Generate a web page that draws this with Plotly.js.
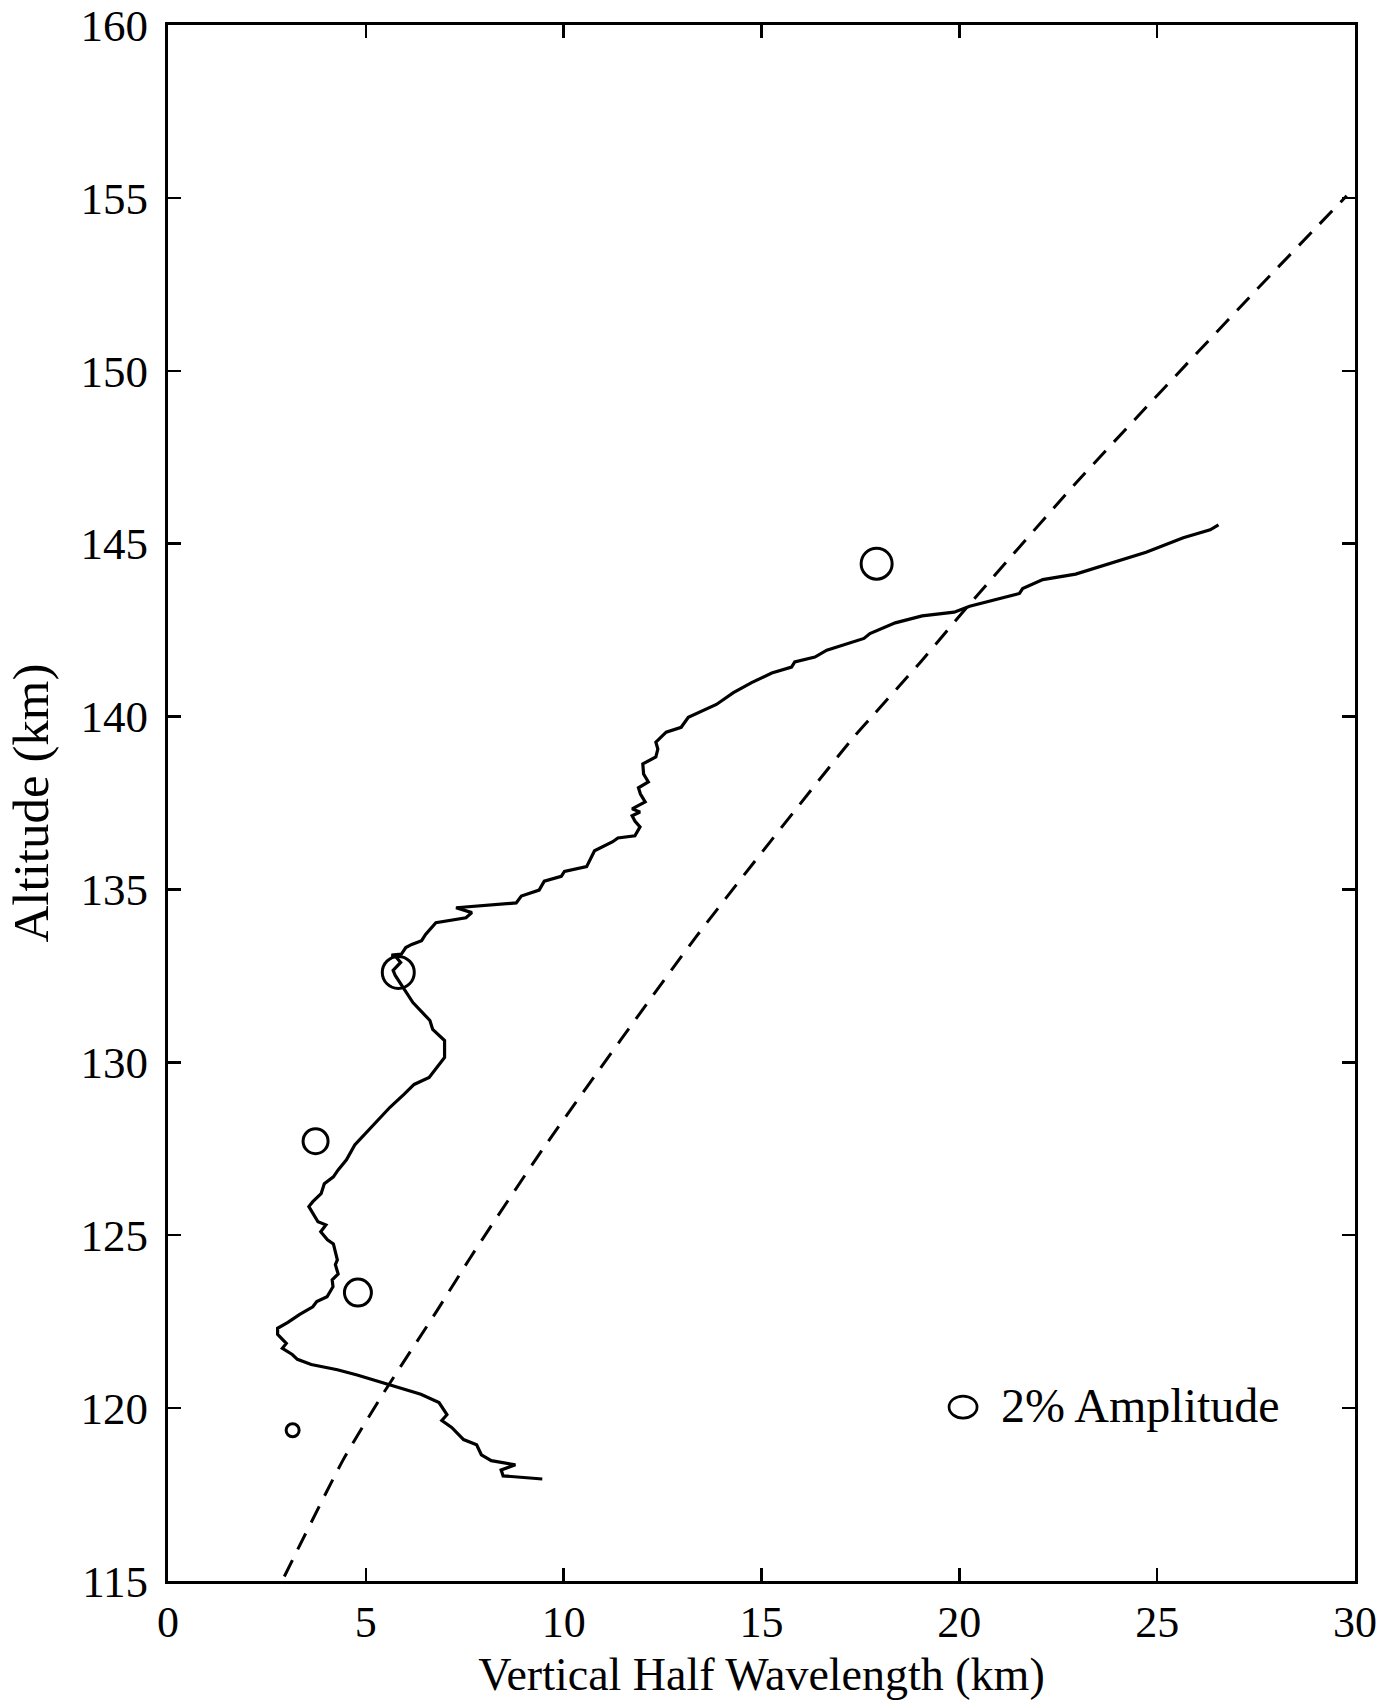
<!DOCTYPE html>
<html>
<head>
<meta charset="utf-8">
<script src="https://cdn.plot.ly/plotly-3.0.1.min.js"></script>
<style>
  html, body { margin: 0; padding: 0; background: #ffffff; }
  #chart { width: 1396px; height: 1700px; }
</style>
</head>
<body>
<div id="chart"></div>
<script>
// Measured vertical half wavelength profile (km) vs altitude (km)
const profileHalfWavelength = [
  9.46, 8.47, 8.42, 8.78, 8.17, 7.92, 7.80, 7.47, 7.17, 6.92, 7.05, 6.85, 6.39, 5.64, 5.14,
  4.78, 4.28, 3.62, 3.27, 3.14, 2.89, 2.99, 2.77, 2.77, 3.03, 3.33, 3.66, 3.76, 4.02, 4.17,
  4.15, 4.30, 4.23, 4.28, 4.18, 4.03, 3.86, 3.99, 3.79, 3.69, 3.56, 3.66, 3.87, 3.95, 4.18,
  4.30, 4.51, 4.72, 5.20, 5.61, 5.97, 6.22, 6.60, 6.99, 6.99, 6.69, 6.62, 6.39, 6.19, 5.94,
  5.74, 5.69, 5.88, 5.77, 5.65, 5.90, 6.01, 6.16, 6.41, 6.51, 6.67, 6.77, 7.53, 7.68, 7.28,
  8.80, 8.93, 9.38, 9.51, 9.94, 10.02, 10.58, 10.78, 11.24, 11.37, 11.80, 11.93, 11.80, 11.73, 11.93,
  11.73, 12.06, 11.94, 11.89, 12.14, 12.02, 12.00, 12.33, 12.38, 12.33, 12.59, 12.97, 13.15, 13.86, 14.29,
  14.75, 15.26, 15.76, 15.84, 16.35, 16.65, 17.59, 17.74, 18.38, 19.06, 19.87, 20.26, 21.52, 21.60, 22.11,
  22.94, 24.72, 25.66, 26.34, 26.55
];
const profileAltitude = [
  117.95, 118.04, 118.21, 118.36, 118.48, 118.65, 118.94, 119.09, 119.44, 119.64, 119.81, 120.16, 120.40, 120.66, 120.84,
  120.96, 121.11, 121.26, 121.41, 121.55, 121.73, 121.87, 122.13, 122.31, 122.48, 122.71, 122.93, 123.08, 123.22, 123.51,
  123.71, 123.88, 124.15, 124.29, 124.75, 124.87, 125.10, 125.30, 125.39, 125.59, 125.83, 125.97, 126.20, 126.49, 126.69,
  126.89, 127.18, 127.61, 128.21, 128.70, 129.08, 129.36, 129.56, 130.14, 130.63, 130.95, 131.21, 131.50, 131.73, 132.17,
  132.52, 132.66, 132.89, 133.04, 133.10, 133.13, 133.32, 133.41, 133.52, 133.70, 133.90, 134.04, 134.18, 134.33, 134.47,
  134.61, 134.81, 134.98, 135.24, 135.38, 135.52, 135.66, 136.12, 136.38, 136.49, 136.55, 136.81, 136.98, 137.13, 137.24,
  137.33, 137.53, 137.76, 137.94, 138.11, 138.34, 138.63, 138.83, 139.06, 139.26, 139.55, 139.69, 139.98, 140.35, 140.69,
  140.98, 141.26, 141.43, 141.58, 141.72, 141.92, 142.26, 142.40, 142.71, 142.91, 143.02, 143.19, 143.56, 143.70, 143.96,
  144.12, 144.75, 145.17, 145.40, 145.54
];

// Model curve (dashed)
const modelHalfWavelength = [2.94, 4.43, 5.46, 6.80, 7.64, 9.49, 13.34, 17.26, 17.72, 19.00, 20.26, 22.97, 27.31, 29.79];
const modelAltitude = [115.13, 118.51, 120.46, 122.82, 124.35, 127.52, 133.62, 139.31, 139.91, 141.55, 143.25, 146.78, 152.10, 155.06];

// Individual wave events (open circles)
const eventHalfWavelength = [17.91, 5.82, 3.73, 4.80, 3.15];
const eventAltitude = [144.42, 132.60, 127.72, 123.34, 119.36];

// Axis ticks
const xTickValues = [0, 5, 10, 15, 20, 25, 30];
const yTickValues = [115, 120, 125, 130, 135, 140, 145, 150, 155, 160];

const legendLabel = '2% Amplitude';

// Circle diameters in px (scaled with amplitude)
const eventMarkerSizes = [31, 32, 25, 27, 13];

const serif = 'Liberation Serif, Times New Roman, serif';

const traces = [
  {
    x: modelHalfWavelength, y: modelAltitude,
    type: 'scatter', mode: 'lines',
    line: { color: '#000', width: 3, dash: '18px,12px', shape: 'spline', smoothing: 0.6 },
    hoverinfo: 'skip'
  },
  {
    x: profileHalfWavelength, y: profileAltitude,
    type: 'scatter', mode: 'lines',
    line: { color: '#000', width: 3.2 },
    hoverinfo: 'skip'
  },
  {
    x: eventHalfWavelength, y: eventAltitude,
    type: 'scatter', mode: 'markers',
    marker: {
      symbol: 'circle-open', color: '#000', opacity: 1,
      size: eventMarkerSizes, line: { width: 3, color: '#000' }
    },
    hoverinfo: 'skip'
  }
];

const axisCommon = {
  ticks: 'inside', ticklen: 13, tickwidth: 2.5, tickcolor: '#000',
  showline: true, linewidth: 3, linecolor: '#000', mirror: 'ticks',
  showgrid: false, zeroline: false, automargin: false,
  tickfont: { family: serif, size: 45, color: '#000' }
};

const layout = {
  width: 1396, height: 1700,
  paper_bgcolor: '#fff', plot_bgcolor: '#fff',
  margin: { l: 168, r: 41, t: 25, b: 119 },
  showlegend: false,
  xaxis: Object.assign({}, axisCommon, {
    range: [0, 30], tickvals: xTickValues, ticktext: xTickValues.map(String),
    ticklabelstandoff: 0,
    tickfont: { family: serif, size: 44, color: '#000' },
    title: { text: 'Vertical Half Wavelength (km)', font: { family: serif, size: 46, color: '#000' }, standoff: 20 }
  }),
  yaxis: Object.assign({}, axisCommon, {
    range: [115, 160], tickvals: yTickValues, ticktext: yTickValues.map(String),
    ticklabelstandoff: 8,
    title: { text: 'Altitude (km)', font: { family: serif, size: 51, color: '#000' }, standoff: 16 }
  }),
  shapes: [
    {
      type: 'circle', xref: 'paper', yref: 'paper',
      xsizemode: 'pixel', ysizemode: 'pixel',
      xanchor: 0.6698, yanchor: 0.1118,
      x0: -14, x1: 14, y0: -11, y1: 11,
      line: { color: '#000', width: 2.7 }
    }
  ],
  annotations: [
    {
      text: legendLabel, xref: 'paper', yref: 'paper',
      x: 0.7005, y: 0.1125, xanchor: 'left', yanchor: 'middle',
      showarrow: false, font: { family: serif, size: 48, color: '#000' }
    }
  ]
};

Plotly.newPlot('chart', traces, layout, { staticPlot: true, displayModeBar: false });
</script>
</body>
</html>
